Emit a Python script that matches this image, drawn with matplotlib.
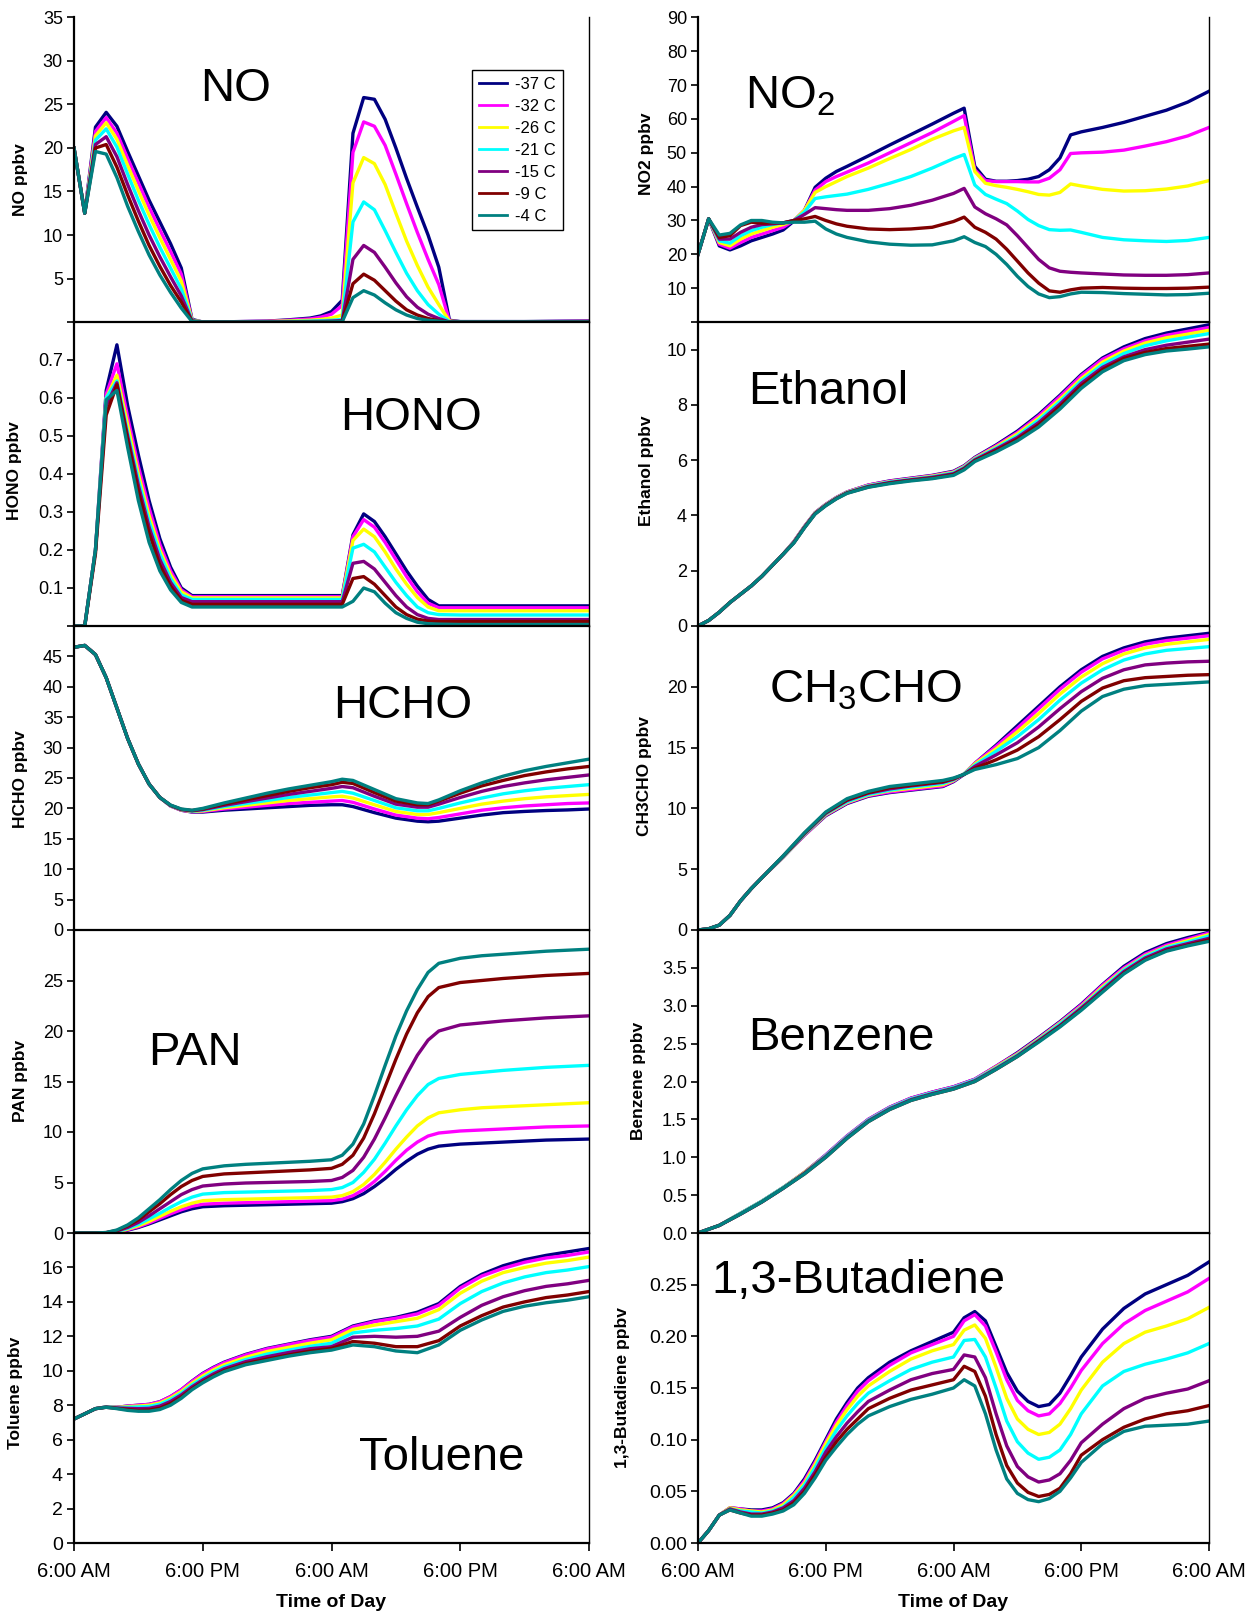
import matplotlib
matplotlib.use("Agg")
import matplotlib.pyplot as plt
from matplotlib.ticker import FixedLocator, FixedFormatter

plt.rcParams['font.family'] = ['Liberation Sans', 'DejaVu Sans']
plt.rcParams['mathtext.fontset'] = 'custom'
plt.rcParams['mathtext.rm'] = 'Liberation Sans'
plt.rcParams['mathtext.it'] = 'Liberation Sans:italic'
plt.rcParams['mathtext.bf'] = 'Liberation Sans:bold'
plt.rcParams['mathtext.default'] = 'regular'

# ---------------- series labels and colours ----------------
temps = ["-37 C", "-32 C", "-26 C", "-21 C", "-15 C", "-9 C", "-4 C"]
colors = ["#000080", "#FF00FF", "#FFFF00", "#00FFFF", "#800080", "#800000", "#008080"]

time_ticks = [0, 12, 24, 36, 48]
time_labels = ["6:00 AM", "6:00 PM", "6:00 AM", "6:00 PM", "6:00 AM"]

# ---------------- NO (ppbv) ----------------
no_hours = [0, 1, 2, 3, 4, 5, 6, 7, 8, 9, 10, 11, 12, 14, 18, 20, 22, 23, 24, 25,
            26, 27, 28, 29, 30, 31, 32, 33, 34, 35, 36, 42, 48]
no_m37 = [20, 12.5, 22.4, 24.1, 22.5, 19.6, 16.8, 14.0, 11.5, 9.0, 6.2, 0.3, 0.0, 0.02, 0.1, 0.25, 0.45, 0.7, 1.2, 2.5,
          21.7, 25.8, 25.6, 23.3, 20.0, 16.5, 13.2, 10.0, 6.3, 0.2, 0.05, 0.05, 0.12]
no_m32 = [20, 12.5, 21.9, 23.5, 21.7, 18.8, 16.0, 13.2, 10.6, 8.1, 5.5, 0.2, 0.0, 0.02, 0.08, 0.2, 0.35, 0.55, 0.9, 1.9,
          19.5, 23.0, 22.5, 20.3, 17.0, 13.6, 10.3, 7.2, 4.3, 0.1, 0.03, 0.03, 0.08]
no_m26 = [20, 12.5, 21.4, 22.9, 21.0, 18.0, 15.1, 12.3, 9.7, 7.2, 4.7, 0.2, 0.0, 0.01, 0.05, 0.12, 0.2, 0.3, 0.45, 0.8,
          16.0, 18.9, 18.2, 15.8, 12.5, 9.3, 6.5, 4.0, 2.0, 0.1, 0.02, 0.02, 0.05]
no_m21 = [20, 12.5, 20.9, 22.2, 20.1, 17.0, 14.0, 11.2, 8.6, 6.2, 3.8, 0.15, 0.0, 0.0, 0.03, 0.06, 0.1, 0.15, 0.2, 0.3,
          11.5, 13.8, 12.9, 10.5, 8.0, 5.6, 3.6, 2.0, 0.9, 0.05, 0.01, 0.01, 0.03]
no_m15 = [20, 12.5, 20.4, 21.3, 19.0, 15.8, 12.8, 10.0, 7.5, 5.2, 3.0, 0.1, 0.0, 0.0, 0.01, 0.03, 0.05, 0.07, 0.1, 0.15,
          7.2, 8.8, 8.0, 6.3, 4.5, 2.9, 1.7, 0.9, 0.4, 0.0, 0.0, 0.0, 0.01]
no_m9 = [20, 12.5, 20.0, 20.4, 17.8, 14.6, 11.6, 8.8, 6.4, 4.2, 2.3, 0.1, 0.0, 0.0, 0.0, 0.01, 0.02, 0.03, 0.05, 0.07,
         4.4, 5.5, 4.8, 3.6, 2.4, 1.4, 0.8, 0.4, 0.15, 0.0, 0.0, 0.0, 0.0]
no_m4 = [20, 12.5, 19.6, 19.3, 16.6, 13.3, 10.4, 7.7, 5.4, 3.4, 1.6, 0.05, 0.0, 0.0, 0.0, 0.0, 0.01, 0.01, 0.02, 0.03,
         2.8, 3.6, 3.1, 2.2, 1.4, 0.8, 0.4, 0.2, 0.1, 0.0, 0.0, 0.0, 0.0]

# ---------------- NO2 (ppbv) ----------------
no2_hours = [0, 1, 2, 3, 4, 5, 6, 7, 8, 9, 10, 11, 12, 13, 14, 16, 18, 20, 22, 24, 25,
             26, 27, 28, 29, 30, 31, 32, 33, 34, 35, 36, 38, 40, 42, 44, 46, 48]
no2_m37 = [20, 30.5, 22.5, 21.3, 22.5, 24.0, 25.0, 26.0, 27.2, 29.8, 33.0, 39.8, 42.5, 44.5, 46.0, 49.1, 52.3, 55.4, 58.5, 61.7, 63.2,
           46.0, 42.2, 41.6, 41.6, 41.8, 42.2, 43.0, 45.0, 48.5, 55.3, 56.2, 57.5, 59.0, 60.8, 62.6, 65.0, 68.2]
no2_m32 = [20, 30.5, 23.0, 21.8, 23.5, 25.0, 26.0, 27.0, 28.0, 30.0, 33.0, 39.0, 41.5, 43.0, 44.3, 47.0, 50.0, 53.0, 56.0, 59.3, 61.0,
           45.0, 41.8, 41.5, 41.5, 41.5, 41.4, 41.4, 42.5, 45.0, 49.8, 50.0, 50.2, 50.8, 52.0, 53.3, 55.0, 57.5]
no2_m26 = [20, 30.5, 23.5, 22.5, 24.5, 26.0, 27.0, 28.0, 28.8, 30.0, 33.0, 38.3, 40.0, 41.5, 43.0, 45.5, 48.3, 51.0, 54.0, 56.5, 57.5,
           44.5, 41.0, 40.3, 39.8, 39.2, 38.5, 37.7, 37.5, 38.3, 40.8, 40.2, 39.2, 38.7, 38.8, 39.3, 40.2, 41.8]
no2_m21 = [20, 30.5, 24.0, 23.3, 25.5, 27.0, 28.0, 28.8, 29.3, 30.0, 32.5, 36.5, 37.0, 37.4, 37.8, 39.2, 41.0, 43.0, 45.5, 48.3, 49.5,
           40.5, 37.7, 36.3, 35.0, 32.8, 30.3, 28.5, 27.3, 27.1, 27.2, 26.5, 25.0, 24.3, 24.0, 23.8, 24.1, 25.0]
no2_m15 = [20, 30.5, 24.5, 24.5, 26.5, 28.0, 28.8, 29.0, 29.3, 30.0, 31.8, 33.8, 33.5, 33.2, 33.0, 33.0, 33.5, 34.5, 36.0, 38.0, 39.5,
           34.0, 32.0, 30.5, 28.7, 25.5, 22.0, 18.5, 16.0, 15.0, 14.7, 14.5, 14.2, 13.9, 13.8, 13.8, 14.0, 14.5]
no2_m9 = [20, 30.5, 25.0, 25.5, 28.5, 29.5, 29.2, 29.3, 29.3, 30.0, 30.5, 31.2, 30.0, 29.0, 28.3, 27.5, 27.3, 27.5, 28.0, 29.7, 31.0,
          28.0, 26.5, 24.5, 21.5, 18.0, 14.5, 11.5, 9.2, 8.8, 9.5, 10.0, 10.2, 10.0, 9.9, 9.9, 10.0, 10.3]
no2_m4 = [20, 30.5, 25.7, 26.2, 28.7, 30.0, 30.0, 29.5, 29.3, 29.5, 29.5, 29.8, 27.5, 26.0, 25.0, 23.7, 23.0, 22.7, 22.8, 24.0, 25.2,
          23.5, 22.3, 20.0, 17.0, 13.5, 10.5, 8.3, 7.2, 7.5, 8.3, 8.8, 8.7, 8.4, 8.2, 8.0, 8.1, 8.5]

# ---------------- HONO (ppbv) ----------------
hono_hours = [0, 1, 2, 3, 4, 5, 6, 7, 8, 9, 10, 11, 12, 18, 24, 25,
              26, 27, 28, 29, 30, 31, 32, 33, 34, 36, 42, 48]
hono_m37 = [0, 0, 0.2, 0.62, 0.74, 0.58, 0.45, 0.33, 0.23, 0.155, 0.10, 0.08, 0.08, 0.08, 0.08, 0.08,
            0.24, 0.295, 0.275, 0.235, 0.19, 0.145, 0.105, 0.07, 0.053, 0.053, 0.053, 0.053]
hono_m32 = [0, 0, 0.2, 0.61, 0.69, 0.55, 0.42, 0.31, 0.215, 0.145, 0.095, 0.077, 0.077, 0.077, 0.077, 0.077,
            0.235, 0.28, 0.26, 0.22, 0.175, 0.13, 0.09, 0.06, 0.048, 0.048, 0.048, 0.048]
hono_m26 = [0, 0, 0.2, 0.60, 0.66, 0.53, 0.40, 0.29, 0.20, 0.135, 0.09, 0.074, 0.074, 0.074, 0.074, 0.074,
            0.225, 0.255, 0.235, 0.195, 0.15, 0.11, 0.075, 0.05, 0.04, 0.04, 0.04, 0.04]
hono_m21 = [0, 0, 0.2, 0.60, 0.645, 0.51, 0.385, 0.275, 0.19, 0.125, 0.082, 0.07, 0.07, 0.07, 0.07, 0.07,
            0.205, 0.215, 0.195, 0.155, 0.115, 0.08, 0.05, 0.035, 0.03, 0.029, 0.029, 0.029]
hono_m15 = [0, 0, 0.2, 0.58, 0.64, 0.50, 0.37, 0.26, 0.175, 0.115, 0.075, 0.064, 0.064, 0.064, 0.064, 0.064,
            0.165, 0.17, 0.15, 0.115, 0.08, 0.05, 0.03, 0.02, 0.017, 0.017, 0.017, 0.017]
hono_m9 = [0, 0, 0.19, 0.555, 0.635, 0.49, 0.355, 0.245, 0.16, 0.105, 0.068, 0.057, 0.057, 0.057, 0.057, 0.057,
           0.125, 0.13, 0.11, 0.08, 0.05, 0.03, 0.018, 0.013, 0.012, 0.012, 0.012, 0.012]
hono_m4 = [0, 0, 0.2, 0.595, 0.62, 0.47, 0.33, 0.22, 0.145, 0.095, 0.062, 0.05, 0.05, 0.05, 0.05, 0.05,
           0.065, 0.10, 0.09, 0.06, 0.035, 0.02, 0.01, 0.006, 0.005, 0.004, 0.004, 0.004]

# ---------------- Ethanol (ppbv) ----------------
eth_hours = [0, 1, 2, 3, 4, 5, 6, 7, 8, 9, 10, 11, 12, 13, 14, 16, 18, 20, 22,
             24, 25, 26, 28, 30, 32, 34, 36, 38, 40, 42, 44, 46, 48]
eth_m37 = [0, 0.2, 0.5, 0.85, 1.15, 1.45, 1.8, 2.2, 2.6, 3.05, 3.6, 4.1, 4.4, 4.65, 4.85, 5.1, 5.25, 5.35, 5.45,
           5.6, 5.8, 6.1, 6.55, 7.05, 7.65, 8.35, 9.1, 9.7, 10.1, 10.4, 10.6, 10.75, 10.9]
eth_m32 = [0, 0.2, 0.5, 0.85, 1.15, 1.45, 1.8, 2.2, 2.6, 3.05, 3.6, 4.1, 4.4, 4.65, 4.85, 5.1, 5.24, 5.34, 5.44,
           5.58, 5.78, 6.08, 6.52, 7.0, 7.6, 8.3, 9.05, 9.65, 10.03, 10.32, 10.52, 10.66, 10.8]
eth_m26 = [0, 0.2, 0.5, 0.85, 1.15, 1.45, 1.8, 2.2, 2.6, 3.04, 3.59, 4.09, 4.39, 4.64, 4.84, 5.08, 5.22, 5.32, 5.42,
           5.56, 5.76, 6.06, 6.48, 6.95, 7.52, 8.2, 8.95, 9.55, 9.95, 10.24, 10.43, 10.56, 10.7]
eth_m21 = [0, 0.2, 0.5, 0.85, 1.15, 1.45, 1.8, 2.2, 2.6, 3.03, 3.58, 4.08, 4.38, 4.63, 4.83, 5.07, 5.21, 5.31, 5.4,
           5.54, 5.74, 6.04, 6.44, 6.88, 7.45, 8.12, 8.87, 9.46, 9.86, 10.14, 10.32, 10.45, 10.58]
eth_m15 = [0, 0.2, 0.5, 0.85, 1.15, 1.45, 1.8, 2.2, 2.6, 3.02, 3.57, 4.07, 4.37, 4.62, 4.82, 5.05, 5.19, 5.29, 5.38,
           5.51, 5.71, 6.01, 6.4, 6.82, 7.36, 8.03, 8.78, 9.36, 9.74, 10.0, 10.16, 10.27, 10.38]
eth_m9 = [0, 0.2, 0.5, 0.85, 1.15, 1.45, 1.8, 2.2, 2.6, 3.01, 3.56, 4.06, 4.36, 4.61, 4.81, 5.03, 5.17, 5.27, 5.35,
          5.48, 5.68, 5.98, 6.35, 6.76, 7.28, 7.94, 8.69, 9.28, 9.68, 9.9, 10.04, 10.12, 10.2]
eth_m4 = [0, 0.2, 0.5, 0.85, 1.15, 1.45, 1.8, 2.2, 2.6, 3.0, 3.55, 4.05, 4.35, 4.6, 4.8, 5.02, 5.15, 5.25, 5.33,
          5.45, 5.65, 5.95, 6.3, 6.7, 7.2, 7.85, 8.6, 9.2, 9.6, 9.82, 9.95, 10.02, 10.1]

# ---------------- HCHO (ppbv) ----------------
hcho_hours = [0, 1, 2, 3, 4, 5, 6, 7, 8, 9, 10, 11, 12, 14, 16, 18, 20, 22, 24, 25, 26,
              28, 30, 32, 33, 34, 36, 38, 40, 42, 44, 46, 48]
hcho_m37 = [46.5, 46.8, 45.3, 41.5, 36.5, 31.5, 27.3, 24.0, 21.8, 20.4, 19.7, 19.4, 19.4, 19.7, 19.9, 20.1, 20.3, 20.5, 20.6, 20.6, 20.3,
            19.3, 18.4, 17.9, 17.8, 17.9, 18.4, 18.9, 19.3, 19.5, 19.65, 19.75, 19.9]
hcho_m32 = [46.5, 46.8, 45.3, 41.5, 36.5, 31.5, 27.3, 24.0, 21.8, 20.4, 19.7, 19.45, 19.5, 19.9, 20.2, 20.5, 20.8, 21.0, 21.2, 21.3, 21.0,
            19.9, 18.9, 18.4, 18.3, 18.5, 19.1, 19.7, 20.1, 20.4, 20.6, 20.8, 20.9]
hcho_m26 = [46.5, 46.8, 45.3, 41.5, 36.5, 31.5, 27.3, 24.0, 21.8, 20.45, 19.75, 19.5, 19.6, 20.1, 20.5, 20.9, 21.3, 21.6, 21.9, 22.0, 21.7,
            20.6, 19.5, 19.0, 19.0, 19.3, 20.0, 20.7, 21.2, 21.6, 21.9, 22.1, 22.3]
hcho_m21 = [46.5, 46.8, 45.3, 41.5, 36.5, 31.5, 27.3, 24.0, 21.8, 20.45, 19.8, 19.55, 19.7, 20.3, 20.8, 21.3, 21.8, 22.2, 22.6, 22.8, 22.5,
            21.3, 20.1, 19.6, 19.6, 20.0, 20.9, 21.7, 22.4, 22.9, 23.3, 23.6, 23.9]
hcho_m15 = [46.5, 46.8, 45.3, 41.5, 36.5, 31.5, 27.3, 24.0, 21.8, 20.5, 19.8, 19.6, 19.8, 20.5, 21.1, 21.7, 22.3, 22.8, 23.3, 23.6, 23.4,
            22.0, 20.7, 20.2, 20.2, 20.7, 21.8, 22.8, 23.6, 24.2, 24.7, 25.1, 25.5]
hcho_m9 = [46.5, 46.8, 45.3, 41.5, 36.5, 31.5, 27.3, 24.0, 21.8, 20.5, 19.85, 19.65, 19.9, 20.7, 21.4, 22.1, 22.8, 23.4, 23.9, 24.3, 24.1,
           22.6, 21.2, 20.6, 20.6, 21.2, 22.5, 23.7, 24.6, 25.4, 26.0, 26.5, 26.9]
hcho_m4 = [46.5, 46.8, 45.3, 41.5, 36.5, 31.5, 27.3, 24.0, 21.8, 20.55, 19.9, 19.7, 20.0, 20.9, 21.7, 22.5, 23.2, 23.8, 24.4, 24.8, 24.6,
           23.1, 21.6, 20.9, 20.8, 21.4, 22.9, 24.2, 25.3, 26.2, 26.9, 27.5, 28.1]

# ---------------- CH3CHO (ppbv) ----------------
acet_hours = [0, 1, 2, 3, 4, 5, 6, 8, 10, 12, 14, 16, 18, 20, 22, 23, 24, 25, 26,
              28, 30, 32, 34, 36, 38, 40, 42, 44, 46, 48]
acet_m37 = [0, 0.1, 0.4, 1.2, 2.4, 3.4, 4.3, 6.0, 7.8, 9.4, 10.4, 11.0, 11.3, 11.5, 11.7, 11.8, 12.2, 12.8, 13.7,
            15.2, 16.8, 18.4, 20.0, 21.4, 22.5, 23.2, 23.7, 24.0, 24.2, 24.4]
acet_m32 = [0, 0.1, 0.4, 1.2, 2.4, 3.4, 4.3, 6.0, 7.8, 9.45, 10.45, 11.05, 11.35, 11.55, 11.75, 11.85, 12.25, 12.85, 13.7,
            15.1, 16.6, 18.2, 19.8, 21.2, 22.3, 23.0, 23.5, 23.8, 24.0, 24.2]
acet_m26 = [0, 0.1, 0.4, 1.2, 2.4, 3.4, 4.3, 6.0, 7.85, 9.5, 10.5, 11.1, 11.45, 11.65, 11.85, 11.95, 12.3, 12.85, 13.65,
            14.9, 16.3, 17.8, 19.4, 20.8, 21.9, 22.7, 23.2, 23.5, 23.7, 23.9]
acet_m21 = [0, 0.1, 0.4, 1.2, 2.4, 3.4, 4.3, 6.02, 7.88, 9.55, 10.55, 11.15, 11.5, 11.75, 11.95, 12.05, 12.35, 12.85, 13.55,
            14.7, 15.9, 17.3, 18.9, 20.3, 21.4, 22.2, 22.7, 23.0, 23.15, 23.3]
acet_m15 = [0, 0.1, 0.4, 1.2, 2.4, 3.4, 4.3, 6.05, 7.92, 9.6, 10.65, 11.25, 11.6, 11.85, 12.05, 12.15, 12.4, 12.8, 13.45,
            14.4, 15.4, 16.7, 18.2, 19.6, 20.7, 21.4, 21.8, 21.95, 22.05, 22.1]
acet_m9 = [0, 0.1, 0.4, 1.2, 2.4, 3.4, 4.3, 6.08, 7.96, 9.65, 10.7, 11.3, 11.7, 11.9, 12.1, 12.2, 12.45, 12.8, 13.3,
           14.0, 14.8, 15.9, 17.3, 18.8, 19.9, 20.5, 20.75, 20.85, 20.95, 21.0]
acet_m4 = [0, 0.1, 0.4, 1.2, 2.4, 3.4, 4.3, 6.1, 8.0, 9.7, 10.8, 11.4, 11.8, 12.0, 12.2, 12.3, 12.5, 12.8, 13.2,
           13.6, 14.1, 15.0, 16.4, 18.0, 19.2, 19.8, 20.1, 20.2, 20.3, 20.4]

# ---------------- PAN (ppbv) ----------------
pan_hours = [0, 2, 3, 4, 5, 6, 7, 8, 9, 10, 11, 12, 14, 16, 18, 20, 22, 24, 25, 26, 27, 28, 29, 30,
             31, 32, 33, 34, 36, 38, 40, 44, 48]
pan_m37 = [0, 0, 0.01, 0.08, 0.28, 0.55, 0.9, 1.3, 1.7, 2.1, 2.4, 2.6, 2.7, 2.75, 2.8, 2.85, 2.9, 2.95, 3.1, 3.4, 3.9, 4.6, 5.4, 6.3,
           7.1, 7.8, 8.3, 8.6, 8.8, 8.9, 9.0, 9.2, 9.3]
pan_m32 = [0, 0, 0.01, 0.1, 0.32, 0.62, 1.0, 1.45, 1.9, 2.3, 2.65, 2.85, 2.95, 3.0, 3.05, 3.1, 3.15, 3.2, 3.35, 3.7, 4.3, 5.1, 6.1, 7.2,
           8.2, 9.0, 9.6, 9.9, 10.1, 10.2, 10.3, 10.5, 10.6]
pan_m26 = [0, 0, 0.02, 0.12, 0.38, 0.72, 1.15, 1.65, 2.15, 2.6, 2.95, 3.2, 3.3, 3.35, 3.4, 3.45, 3.5, 3.55, 3.7, 4.1, 4.8, 5.8, 7.0, 8.3,
           9.5, 10.6, 11.4, 11.9, 12.2, 12.4, 12.5, 12.7, 12.9]
pan_m21 = [0, 0, 0.02, 0.15, 0.45, 0.85, 1.4, 1.95, 2.55, 3.1, 3.55, 3.85, 4.0, 4.05, 4.1, 4.15, 4.2, 4.3, 4.5, 5.0, 6.0, 7.3, 8.9, 10.6,
           12.2, 13.6, 14.7, 15.3, 15.7, 15.9, 16.1, 16.4, 16.6]
pan_m15 = [0, 0, 0.03, 0.2, 0.55, 1.05, 1.7, 2.4, 3.1, 3.8, 4.3, 4.65, 4.85, 4.95, 5.0, 5.05, 5.1, 5.2, 5.5, 6.2, 7.5, 9.3, 11.4, 13.6,
           15.7, 17.6, 19.1, 20.0, 20.6, 20.8, 21.0, 21.3, 21.5]
pan_m9 = [0, 0, 0.04, 0.25, 0.7, 1.3, 2.1, 2.9, 3.8, 4.6, 5.2, 5.6, 5.85, 5.95, 6.05, 6.15, 6.25, 6.4, 6.8, 7.7, 9.4, 11.8, 14.5, 17.2,
          19.7, 21.8, 23.4, 24.3, 24.8, 25.0, 25.2, 25.5, 25.7]
pan_m4 = [0, 0, 0.05, 0.3, 0.8, 1.5, 2.4, 3.3, 4.3, 5.2, 5.9, 6.35, 6.65, 6.8, 6.9, 7.0, 7.1, 7.25, 7.7, 8.8, 10.8, 13.6, 16.6, 19.5,
          22.0, 24.1, 25.8, 26.7, 27.2, 27.45, 27.6, 27.9, 28.1]

# ---------------- Benzene (ppbv) ----------------
benz_hours = [0, 2, 4, 6, 8, 10, 12, 14, 16, 18, 20, 22, 24, 26, 28, 30, 32, 34, 36, 38, 40, 42, 44, 46, 48]
benz_m37 = [0, 0.1, 0.26, 0.42, 0.6, 0.8, 1.03, 1.28, 1.5, 1.66, 1.78, 1.86, 1.93, 2.03, 2.2, 2.38, 2.58, 2.79, 3.02, 3.28, 3.52, 3.7, 3.82, 3.9, 3.97]
benz_m32 = [0, 0.1, 0.26, 0.42, 0.6, 0.8, 1.03, 1.28, 1.5, 1.66, 1.78, 1.86, 1.93, 2.03, 2.2, 2.37, 2.57, 2.78, 3.01, 3.27, 3.5, 3.68, 3.8, 3.88, 3.96]
benz_m26 = [0, 0.1, 0.26, 0.42, 0.6, 0.8, 1.02, 1.27, 1.49, 1.65, 1.77, 1.85, 1.92, 2.02, 2.19, 2.36, 2.56, 2.77, 2.99, 3.25, 3.48, 3.66, 3.78, 3.86, 3.94]
benz_m21 = [0, 0.1, 0.26, 0.42, 0.6, 0.79, 1.02, 1.27, 1.49, 1.65, 1.77, 1.85, 1.92, 2.02, 2.18, 2.35, 2.55, 2.76, 2.98, 3.23, 3.47, 3.65, 3.77, 3.84, 3.92]
benz_m15 = [0, 0.1, 0.25, 0.41, 0.59, 0.79, 1.01, 1.26, 1.48, 1.64, 1.76, 1.84, 1.91, 2.01, 2.17, 2.34, 2.54, 2.74, 2.97, 3.21, 3.45, 3.63, 3.75, 3.82, 3.89]
benz_m9 = [0, 0.1, 0.25, 0.41, 0.59, 0.78, 1.0, 1.25, 1.47, 1.63, 1.75, 1.83, 1.9, 2.0, 2.16, 2.33, 2.53, 2.73, 2.95, 3.19, 3.43, 3.61, 3.73, 3.8, 3.87]
benz_m4 = [0, 0.1, 0.25, 0.41, 0.59, 0.78, 1.0, 1.25, 1.47, 1.63, 1.75, 1.83, 1.9, 2.0, 2.16, 2.33, 2.52, 2.72, 2.94, 3.18, 3.42, 3.6, 3.72, 3.79, 3.85]

# ---------------- Toluene (ppbv) ----------------
tol_hours = [0, 1, 2, 3, 4, 5, 6, 7, 8, 9, 10, 11, 12, 13, 14, 16, 18, 20, 22, 24,
             26, 28, 30, 32, 34, 36, 38, 40, 42, 44, 46, 48]
tol_m37 = [7.2, 7.5, 7.8, 7.9, 7.88, 7.95, 8.0, 8.05, 8.2, 8.5, 8.9, 9.4, 9.85, 10.2, 10.5, 10.95, 11.3, 11.55, 11.8, 12.0,
           12.6, 12.9, 13.1, 13.4, 13.9, 14.9, 15.6, 16.1, 16.45, 16.7, 16.9, 17.1]
tol_m32 = [7.2, 7.5, 7.8, 7.9, 7.88, 7.95, 8.0, 8.05, 8.2, 8.5, 8.9, 9.38, 9.82, 10.17, 10.47, 10.92, 11.27, 11.52, 11.76, 11.95,
           12.55, 12.85, 13.05, 13.3, 13.8, 14.8, 15.5, 15.95, 16.3, 16.55, 16.7, 16.9]
tol_m26 = [7.2, 7.5, 7.8, 7.9, 7.87, 7.92, 7.95, 8.0, 8.13, 8.42, 8.8, 9.28, 9.7, 10.05, 10.35, 10.78, 11.12, 11.36, 11.6, 11.8,
           12.4, 12.65, 12.85, 13.05, 13.55, 14.5, 15.2, 15.7, 16.0, 16.25, 16.4, 16.6]
tol_m21 = [7.2, 7.5, 7.8, 7.9, 7.86, 7.88, 7.9, 7.93, 8.06, 8.33, 8.7, 9.18, 9.58, 9.93, 10.23, 10.65, 10.97, 11.2, 11.42, 11.6,
           12.2, 12.35, 12.45, 12.6, 13.0, 13.9, 14.6, 15.1, 15.45, 15.7, 15.85, 16.05]
tol_m15 = [7.2, 7.5, 7.8, 7.89, 7.84, 7.82, 7.8, 7.82, 7.95, 8.22, 8.6, 9.07, 9.47, 9.82, 10.12, 10.53, 10.82, 11.06, 11.28, 11.4,
           11.95, 12.0, 11.95, 12.0, 12.3, 13.1, 13.8, 14.3, 14.65, 14.9, 15.05, 15.25]
tol_m9 = [7.2, 7.5, 7.8, 7.88, 7.82, 7.75, 7.7, 7.72, 7.83, 8.1, 8.48, 8.96, 9.36, 9.71, 10.01, 10.42, 10.68, 10.92, 11.14, 11.3,
          11.7, 11.6, 11.4, 11.4, 11.75, 12.6, 13.2, 13.7, 14.0, 14.25, 14.4, 14.6]
tol_m4 = [7.2, 7.5, 7.8, 7.88, 7.8, 7.7, 7.65, 7.65, 7.75, 8.0, 8.4, 8.9, 9.3, 9.65, 9.95, 10.35, 10.6, 10.85, 11.05, 11.2,
          11.5, 11.4, 11.15, 11.05, 11.5, 12.35, 12.95, 13.45, 13.75, 13.95, 14.1, 14.3]

# ---------------- 1,3-Butadiene (ppbv) ----------------
buta_hours = [0, 1, 2, 3, 4, 5, 6, 7, 8, 9, 10, 11, 12, 13, 14, 15, 16, 18, 20, 22, 24, 25, 26, 27, 28,
              29, 30, 31, 32, 33, 34, 35, 36, 38, 40, 42, 44, 46, 48]
buta_m37 = [0, 0.012, 0.027, 0.034, 0.033, 0.032, 0.032, 0.034, 0.039, 0.048, 0.062, 0.08, 0.1, 0.12, 0.136, 0.15, 0.16, 0.175, 0.186,
            0.195, 0.204, 0.218, 0.224, 0.215, 0.19, 0.165, 0.147, 0.137, 0.132, 0.134, 0.145, 0.162, 0.18, 0.207, 0.227, 0.241,
            0.25, 0.259, 0.272]
buta_m32 = [0, 0.012, 0.027, 0.034, 0.033, 0.031, 0.031, 0.033, 0.038, 0.047, 0.06, 0.078, 0.098, 0.117, 0.133, 0.147, 0.157, 0.172,
            0.184, 0.192, 0.2, 0.215, 0.221, 0.21, 0.185, 0.158, 0.138, 0.128, 0.123, 0.125, 0.135, 0.15, 0.167, 0.193, 0.212,
            0.225, 0.234, 0.243, 0.256]
buta_m26 = [0, 0.012, 0.027, 0.034, 0.032, 0.031, 0.03, 0.032, 0.037, 0.046, 0.058, 0.076, 0.096, 0.114, 0.129, 0.142, 0.152, 0.166,
            0.178, 0.186, 0.192, 0.206, 0.211, 0.198, 0.17, 0.14, 0.12, 0.11, 0.105, 0.107, 0.115, 0.13, 0.148, 0.175, 0.193,
            0.204, 0.21, 0.217, 0.228]
buta_m21 = [0, 0.012, 0.027, 0.033, 0.031, 0.03, 0.029, 0.031, 0.035, 0.044, 0.056, 0.073, 0.092, 0.109, 0.123, 0.135, 0.145, 0.157,
            0.168, 0.175, 0.18, 0.196, 0.197, 0.18, 0.15, 0.118, 0.098, 0.087, 0.081, 0.083, 0.09, 0.105, 0.125, 0.152, 0.166,
            0.173, 0.178, 0.184, 0.193]
buta_m15 = [0, 0.012, 0.027, 0.033, 0.030, 0.028, 0.028, 0.03, 0.034, 0.041, 0.053, 0.069, 0.088, 0.103, 0.116, 0.127, 0.137, 0.148,
            0.158, 0.164, 0.168, 0.182, 0.18, 0.16, 0.125, 0.094, 0.074, 0.064, 0.059, 0.061, 0.067, 0.08, 0.097, 0.115, 0.13,
            0.14, 0.145, 0.149, 0.157]
buta_m9 = [0, 0.012, 0.027, 0.032, 0.029, 0.027, 0.027, 0.029, 0.032, 0.039, 0.05, 0.066, 0.083, 0.098, 0.11, 0.12, 0.13, 0.14,
           0.148, 0.153, 0.158, 0.171, 0.166, 0.142, 0.105, 0.075, 0.058, 0.049, 0.045, 0.047, 0.053, 0.067, 0.085, 0.1, 0.112,
           0.12, 0.125, 0.128, 0.133]
buta_m4 = [0, 0.012, 0.027, 0.032, 0.029, 0.026, 0.026, 0.028, 0.031, 0.037, 0.048, 0.063, 0.08, 0.093, 0.105, 0.115, 0.123, 0.132,
           0.139, 0.144, 0.15, 0.158, 0.152, 0.125, 0.09, 0.062, 0.048, 0.042, 0.04, 0.043, 0.05, 0.063, 0.078, 0.096, 0.108,
           0.113, 0.114, 0.115, 0.118]

# ---------------- figure layout (pixels) ----------------
W, H = 1252, 1612
fig = plt.figure(figsize=(W / 100, H / 100), dpi=100)
fig.patch.set_facecolor("white")

col_x = [(74, 589), (698, 1209)]
row_y = [17.5, 322, 626, 930, 1233, 1543]


def make_axes(col, row):
    x0, x1 = col_x[col]
    ytop, ybot = row_y[row], row_y[row + 1]
    return fig.add_axes([x0 / W, 1 - ybot / H, (x1 - x0) / W, (ybot - ytop) / H])


panels = [
    # col, row, hours, series, ylim, yticks, yticklabels, ylabel, ylabel_xy, title, title_xy
    (0, 0, no_hours, [no_m37, no_m32, no_m26, no_m21, no_m15, no_m9, no_m4], 35,
     [0, 5, 10, 15, 20, 25, 30, 35], ["", "5", "10", "15", "20", "25", "30", "35"],
     "NO ppbv", (21, 180), "NO", (236, 101)),
    (0, 1, hono_hours, [hono_m37, hono_m32, hono_m26, hono_m21, hono_m15, hono_m9, hono_m4], 0.8,
     [0, 0.1, 0.2, 0.3, 0.4, 0.5, 0.6, 0.7], ["", "0.1", "0.2", "0.3", "0.4", "0.5", "0.6", "0.7"],
     "HONO ppbv", (15, 471), "HONO", (411, 430)),
    (0, 2, hcho_hours, [hcho_m37, hcho_m32, hcho_m26, hcho_m21, hcho_m15, hcho_m9, hcho_m4], 50,
     list(range(0, 50, 5)), [str(v) for v in range(0, 50, 5)],
     "HCHO ppbv", (21, 779), "HCHO", (403, 718)),
    (0, 3, pan_hours, [pan_m37, pan_m32, pan_m26, pan_m21, pan_m15, pan_m9, pan_m4], 30,
     list(range(0, 30, 5)), [str(v) for v in range(0, 30, 5)],
     "PAN ppbv", (21, 1081), "PAN", (195, 1065)),
    (0, 4, tol_hours, [tol_m37, tol_m32, tol_m26, tol_m21, tol_m15, tol_m9, tol_m4], 18,
     list(range(0, 18, 2)), [str(v) for v in range(0, 18, 2)],
     "Toluene ppbv", (16, 1393), "Toluene", (442, 1470)),
    (1, 0, no2_hours, [no2_m37, no2_m32, no2_m26, no2_m21, no2_m15, no2_m9, no2_m4], 90,
     list(range(0, 100, 10)), [""] + [str(v) for v in range(10, 100, 10)],
     "NO2 ppbv", (647, 154), "NO$_2$", (790, 108)),
    (1, 1, eth_hours, [eth_m37, eth_m32, eth_m26, eth_m21, eth_m15, eth_m9, eth_m4], 11,
     [0, 2, 4, 6, 8, 10], ["0", "2", "4", "6", "8", "10"],
     "Ethanol ppbv", (646, 471), "Ethanol", (828, 404)),
    (1, 2, acet_hours, [acet_m37, acet_m32, acet_m26, acet_m21, acet_m15, acet_m9, acet_m4], 25,
     [0, 5, 10, 15, 20], ["0", "5", "10", "15", "20"],
     "CH3CHO ppbv", (645, 776), "CH$_3$CHO", (866, 703)),
    (1, 3, benz_hours, [benz_m37, benz_m32, benz_m26, benz_m21, benz_m15, benz_m9, benz_m4], 4.0,
     [0, 0.5, 1.0, 1.5, 2.0, 2.5, 3.0, 3.5], ["0.0", "0.5", "1.0", "1.5", "2.0", "2.5", "3.0", "3.5"],
     "Benzene ppbv", (638, 1081), "Benzene", (841, 1050)),
    (1, 4, buta_hours, [buta_m37, buta_m32, buta_m26, buta_m21, buta_m15, buta_m9, buta_m4], 0.30,
     [0, 0.05, 0.10, 0.15, 0.20, 0.25], ["0.00", "0.05", "0.10", "0.15", "0.20", "0.25"],
     "1,3-Butadiene ppbv", (623, 1388), "1,3-Butadiene", (858, 1293)),
]

legend_ax = None
for (col, row, hours, series, ytop, yt, ytl, ylab, ylab_xy, title, title_xy) in panels:
    ax = make_axes(col, row)
    ax.set_facecolor("none")
    lines = []
    for vals, c, lab in zip(series, colors, temps):
        ln, = ax.plot(hours, vals, color=c, lw=2.4, label=lab, solid_joinstyle="round")
        lines.append(ln)
    ax.set_xlim(0, 48)
    ax.set_ylim(0, ytop)

    ax.yaxis.set_major_locator(FixedLocator(yt))
    ax.yaxis.set_major_formatter(FixedFormatter(ytl))
    ysize = 14 if row == 4 else 13
    ax.tick_params(axis="y", direction="out", length=5, width=1.2, labelsize=ysize, pad=3)

    ax.xaxis.set_major_locator(FixedLocator(time_ticks))
    if row == 4:
        ax.xaxis.set_major_formatter(FixedFormatter(time_labels))
        ax.tick_params(axis="x", direction="out", length=6, width=1.2, labelsize=14.5, pad=8)
        ax.set_xlabel("Time of Day", fontsize=14, fontweight="bold", labelpad=9)
    else:
        ax.tick_params(axis="x", length=0, labelbottom=False)

    for side in ("left", "bottom"):
        ax.spines[side].set_linewidth(1.6)
        ax.spines[side].set_color("black")
    ax.spines["right"].set_linewidth(1.0)
    ax.spines["right"].set_color("black")
    ax.spines["top"].set_visible(False)

    fig.text(ylab_xy[0] / W, 1 - ylab_xy[1] / H, ylab, rotation=90, ha="center", va="center",
             fontsize=12.5, fontweight="bold")
    fig.text(title_xy[0] / W, 1 - title_xy[1] / H, title, ha="center", va="baseline", fontsize=34)

    if col == 0 and row == 0:
        legend_ax = ax
        legend_lines = lines

leg = legend_ax.legend(legend_lines, temps, loc="upper left",
                       bbox_to_anchor=(472 / W, 1 - 70 / H), bbox_transform=fig.transFigure,
                       fontsize=12, frameon=True, fancybox=False, framealpha=1,
                       edgecolor="black", handlelength=1.7, handletextpad=0.5,
                       labelspacing=0.42, borderpad=0.4, borderaxespad=0)
leg.get_frame().set_linewidth(1.0)
for lh in leg.get_lines():
    lh.set_linewidth(2.0)

fig.savefig("out.png", dpi=100, facecolor="white")
